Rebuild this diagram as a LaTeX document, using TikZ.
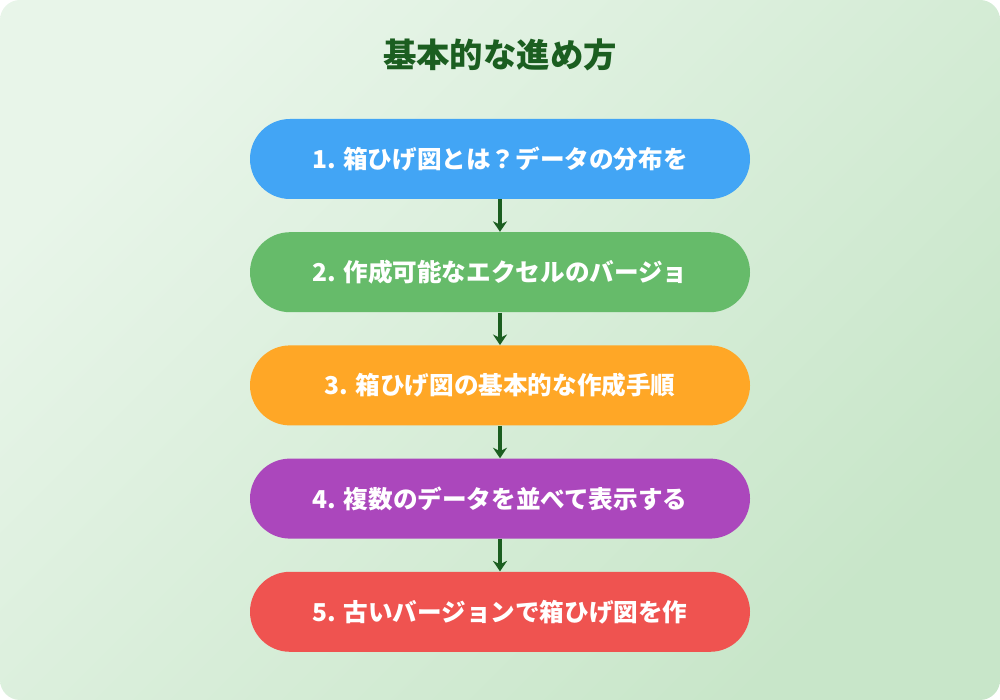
\documentclass[tikz,border=0pt]{standalone}
\usepackage{fontspec}
\setmainfont{Noto Sans CJK JP}
\usetikzlibrary{positioning,arrows.meta}
\definecolor{bgA}{HTML}{E8F5E9}
\definecolor{bgB}{HTML}{C8E6C9}
\definecolor{titlegreen}{HTML}{1B5E20}
\definecolor{stepblue}{HTML}{42A5F5}
\definecolor{stepgreen}{HTML}{66BB6A}
\definecolor{steporange}{HTML}{FFA726}
\definecolor{steppurple}{HTML}{AB47BC}
\definecolor{stepred}{HTML}{EF5350}
\tikzset{stepbox/.style={text=white, font=\bfseries\fontsize{14}{17}\selectfont, text centered, minimum height=1.6cm, minimum width=10cm, rounded corners=0.8cm}}
\tikzset{line/.style={draw, titlegreen, line width=1.8pt, -{Stealth[length=6pt,width=8pt]}}}

\begin{document}
\begin{tikzpicture}
		\shade [left color=bgA, right color=bgB, shading angle=45, rounded corners=0.4cm] (0,0) rectangle (20,14);
		\useasboundingbox (0,0) rectangle (20,14);
		\node [text=titlegreen, font=\bfseries\fontsize{19}{22}\selectfont] (title) at (10,12.9) {基本的な進め方};

		\node [stepbox, fill=stepblue]						(1) at (10,10.82) {1. 箱ひげ図とは？データの分布を};
		\node [stepbox, fill=stepgreen, below=0.65cm of 1]	(2) {2. 作成可能なエクセルのバージョ};
		\node [stepbox, fill=steporange, below=0.65cm of 2]	(3) {3. 箱ひげ図の基本的な作成手順};
		\node [stepbox, fill=steppurple, below=0.65cm of 3]	(4) {4. 複数のデータを並べて表示する};
		\node [stepbox, fill=stepred, below=0.65cm of 4]	(5) {5. 古いバージョンで箱ひげ図を作};

		\path [line] (1) -- (2);
		\path [line] (2) -- (3);
		\path [line] (3) -- (4);
		\path [line] (4) -- (5);
	\end{tikzpicture}
\end{document}
